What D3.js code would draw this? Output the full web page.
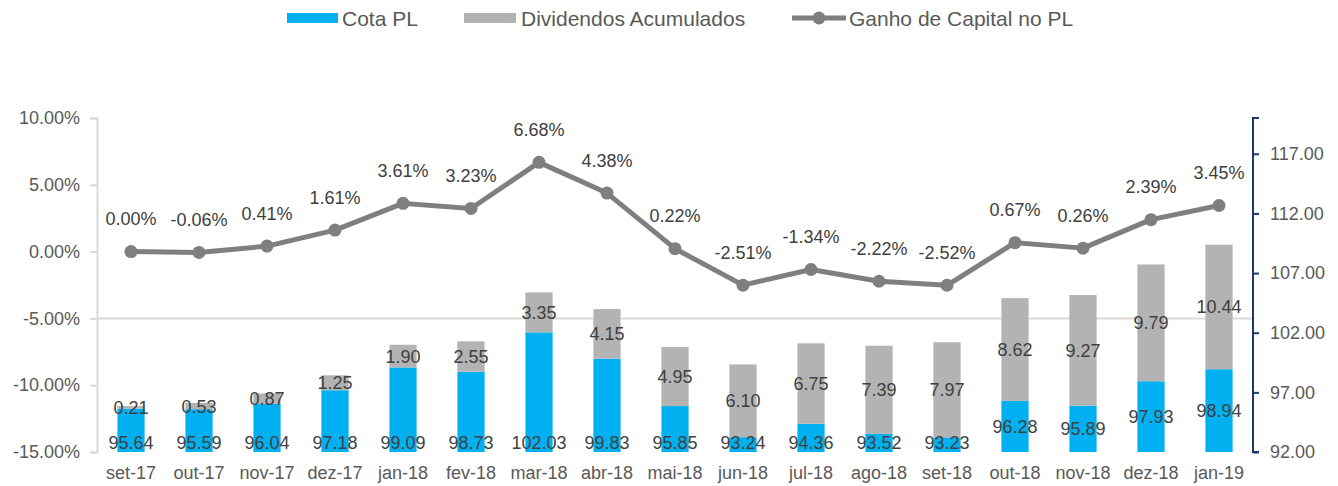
<!DOCTYPE html>
<html><head><meta charset="utf-8">
<script src="https://cdn.jsdelivr.net/npm/d3@7"></script>
<style>body{margin:0;background:#fff}svg{display:block;font-family:"Liberation Sans",Arial,sans-serif}</style>
</head><body><svg id="c" width="1338" height="486"></svg>
<script>
const categories = ["set-17","out-17","nov-17","dez-17","jan-18","fev-18","mar-18","abr-18","mai-18","jun-18","jul-18","ago-18","set-18","out-18","nov-18","dez-18","jan-19"];
const cotaPL = [95.64,95.59,96.04,97.18,99.09,98.73,102.03,99.83,95.85,93.24,94.36,93.52,93.23,96.28,95.89,97.93,98.94];
const dividendos = [0.21,0.53,0.87,1.25,1.90,2.55,3.35,4.15,4.95,6.10,6.75,7.39,7.97,8.62,9.27,9.79,10.44];
const ganho = [0.00,-0.06,0.41,1.61,3.61,3.23,6.68,4.38,0.22,-2.51,-1.34,-2.22,-2.52,0.67,0.26,2.39,3.45];
const leftTicks = [-15,-10,-5,0,5,10];
const rightTicks = [92,97,102,107,112,117];

const svg = d3.select("#c");
const L = 97, R = 1253, T = 118, B = 452;
const x = d3.scaleBand().domain(categories).range([L, R]).paddingInner(0.6).paddingOuter(0.3);
const yL = d3.scaleLinear().domain([-15, 10]).range([B, T]);
const yR = d3.scaleLinear().domain([92, 120]).range([B, T]);
const cx = c => x(c) + x.bandwidth() / 2;
const fs = 18;

// gridline at -5%
svg.append("line").attr("x1", L).attr("x2", R).attr("y1", yL(-5)).attr("y2", yL(-5))
  .attr("stroke", "#d9d9d9").attr("stroke-width", 2);

// left axis
const gL = svg.append("g").attr("transform", `translate(${L},0)`)
  .call(d3.axisLeft(yL).tickValues(leftTicks).tickSize(7).tickPadding(10).tickFormat(d => d.toFixed(2) + "%"));
gL.select(".domain").attr("stroke", "#d9d9d9").attr("stroke-width", 2);
gL.selectAll(".tick line").attr("stroke", "#d9d9d9").attr("stroke-width", 2);
gL.selectAll("text").attr("fill", "#595959").style("font-size", fs + "px").style("font-family", "Liberation Sans, Arial, sans-serif");

// right axis
const gR = svg.append("g").attr("transform", `translate(${R},0)`)
  .call(d3.axisRight(yR).tickValues(rightTicks).tickSize(6).tickPadding(11).tickFormat(d => d.toFixed(2)));
gR.select(".domain").attr("stroke", "#1f3864").attr("stroke-width", 2).attr("d", `M6,${T}H0V${B}H6`);
gR.selectAll(".tick line").attr("stroke", "#1f3864").attr("stroke-width", 2);
gR.selectAll("text").attr("fill", "#595959").style("font-size", fs + "px").style("font-family", "Liberation Sans, Arial, sans-serif");

// category labels
svg.append("g").selectAll("text").data(categories).join("text")
  .attr("x", d => cx(d)).attr("y", 479).attr("text-anchor", "middle")
  .attr("fill", "#595959").style("font-size", fs + "px").text(d => d);

// bars
const bars = svg.append("g");
bars.selectAll("rect.cota").data(categories).join("rect").attr("class", "cota")
  .attr("x", d => x(d)).attr("width", x.bandwidth())
  .attr("y", (d, i) => yR(cotaPL[i])).attr("height", (d, i) => yR(92) - yR(cotaPL[i]))
  .attr("fill", "#00b0f0");
bars.selectAll("rect.div").data(categories).join("rect").attr("class", "div")
  .attr("x", d => x(d)).attr("width", x.bandwidth())
  .attr("y", (d, i) => yR(cotaPL[i] + dividendos[i])).attr("height", (d, i) => yR(cotaPL[i]) - yR(cotaPL[i] + dividendos[i]))
  .attr("fill", "#b3b3b3");

// bar labels
const nBottom = 13;
svg.append("g").selectAll("text").data(categories).join("text")
  .attr("x", d => cx(d))
  .attr("y", (d, i) => i < nBottom ? 449 : (yR(92) + yR(cotaPL[i])) / 2 + 6.5)
  .attr("text-anchor", "middle").attr("fill", "#404040").style("font-size", fs + "px")
  .text((d, i) => cotaPL[i].toFixed(2));
svg.append("g").selectAll("text").data(categories).join("text")
  .attr("x", d => cx(d))
  .attr("y", (d, i) => (yR(cotaPL[i]) + yR(cotaPL[i] + dividendos[i])) / 2 + 6.5)
  .attr("text-anchor", "middle").attr("fill", "#404040").style("font-size", fs + "px")
  .text((d, i) => dividendos[i].toFixed(2));

// line
const line = d3.line().x((d, i) => cx(categories[i])).y(d => yL(d));
svg.append("path").datum(ganho).attr("d", line).attr("fill", "none")
  .attr("stroke", "#7f7f7f").attr("stroke-width", 5).attr("stroke-linejoin", "round");
svg.append("g").selectAll("circle").data(ganho).join("circle")
  .attr("cx", (d, i) => cx(categories[i])).attr("cy", d => yL(d)).attr("r", 6.5).attr("fill", "#7f7f7f");
svg.append("g").selectAll("text").data(ganho).join("text")
  .attr("x", (d, i) => cx(categories[i])).attr("y", d => yL(d) - 26.5)
  .attr("text-anchor", "middle").attr("fill", "#404040").style("font-size", fs + "px")
  .text(d => d.toFixed(2) + "%");

// legend
const lg = svg.append("g").style("font-size", "21px").attr("fill", "#595959");
lg.append("rect").attr("x", 287).attr("y", 13).attr("width", 51).attr("height", 10).attr("fill", "#00b0f0");
lg.append("text").attr("x", 342).attr("y", 25.5).text("Cota PL");
lg.append("rect").attr("x", 464).attr("y", 13).attr("width", 52).attr("height", 10).attr("fill", "#b3b3b3");
lg.append("text").attr("x", 521).attr("y", 25.5).text("Dividendos Acumulados");
lg.append("line").attr("x1", 792).attr("x2", 846).attr("y1", 18).attr("y2", 18).attr("stroke", "#7f7f7f").attr("stroke-width", 5);
lg.append("circle").attr("cx", 819).attr("cy", 18).attr("r", 6.5).attr("fill", "#7f7f7f");
lg.append("text").attr("x", 849).attr("y", 25.5).text("Ganho de Capital no PL");
</script></body></html>
